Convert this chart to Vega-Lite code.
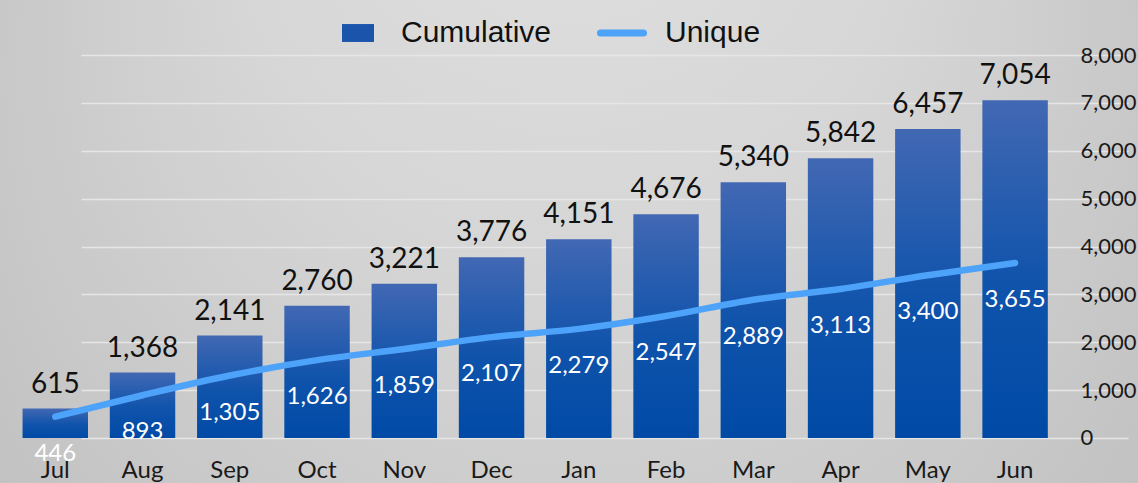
{
  "$schema": "https://vega.github.io/schema/vega-lite/v6.json",
  "width": 1138,
  "height": 483,
  "autosize": "none",
  "padding": 0,
  "background": "#bdbdbd",
  "title": {
    "text": "Agency Members Profile",
    "orient": "top",
    "frame": "group",
    "anchor": "middle",
    "baseline": "bottom",
    "offset": -10,
    "dx": -30,
    "fontSize": 46,
    "font": "Lato",
    "fontWeight": "normal",
    "color": "#222222"
  },
  "config": {
    "view": {
      "stroke": null,
      "fill": {"expr": "{gradient: 'radial', x1: 0.5, y1: 0, r1: 0, x2: 0.5, y2: 0.6, r2: 0.85, stops: [{offset: 0, color: '#e4e4e4'}, {offset: 0.35, color: '#d6d6d6'}, {offset: 0.69, color: '#c2c2c2'}, {offset: 0.83, color: '#a9a9a9'}, {offset: 1, color: '#9e9e9e'}]}"}
    },
    "font": "Lato"
  },
  "data": {
    "values": [
      {"month": "Jul", "Cumulative": 615, "Unique": 446},
      {"month": "Aug", "Cumulative": 1368, "Unique": 893},
      {"month": "Sep", "Cumulative": 2141, "Unique": 1305},
      {"month": "Oct", "Cumulative": 2760, "Unique": 1626},
      {"month": "Nov", "Cumulative": 3221, "Unique": 1859},
      {"month": "Dec", "Cumulative": 3776, "Unique": 2107},
      {"month": "Jan", "Cumulative": 4151, "Unique": 2279},
      {"month": "Feb", "Cumulative": 4676, "Unique": 2547},
      {"month": "Mar", "Cumulative": 5340, "Unique": 2889},
      {"month": "Apr", "Cumulative": 5842, "Unique": 3113},
      {"month": "May", "Cumulative": 6457, "Unique": 3400},
      {"month": "Jun", "Cumulative": 7054, "Unique": 3655}
    ]
  },
  "encoding": {
    "x": {
      "field": "month",
      "type": "ordinal",
      "sort": null,
      "scale": {"paddingInner": 0.25, "paddingOuter": 0.646, "align": 0.2},
      "axis": {
        "orient": "bottom",
        "offset": -45,
        "title": null,
        "labelAngle": 0,
        "ticks": false,
        "domain": false,
        "grid": false,
        "labelPadding": 20,
        "labelFontSize": 24,
        "labelFont": "Lato",
        "labelColor": "#1a1a1a"
      }
    }
  },
  "layer": [
    {
      "mark": {
        "type": "bar",
        "width": {"band": 1},
        "fill": {
          "gradient": "linear",
          "x1": 0, "y1": 0, "x2": 0, "y2": 1,
          "stops": [
            {"offset": 0, "color": "#4268b3"},
            {"offset": 0.55, "color": "#0f53ab"},
            {"offset": 1, "color": "#004aa6"}
          ]
        }
      },
      "encoding": {
        "y": {
          "field": "Cumulative",
          "type": "quantitative",
          "scale": {"domain": [-940, 9149], "nice": false, "zero": false},
          "axis": {
            "orient": "right",
            "offset": -81,
            "title": null,
            "values": [0, 1000, 2000, 3000, 4000, 5000, 6000, 7000, 8000],
            "format": ",.0f",
            "ticks": false,
            "domain": false,
            "grid": true,
            "gridColor": "#e6e6e6",
            "gridWidth": 1.5,
            "gridDash": [1047, 3000],
            "gridDashOffset": 4037,
            "labelPadding": 23,
            "labelFontSize": 22,
            "labelFont": "Lato",
            "labelColor": "#1a1a1a"
          }
        },
        "y2": {"datum": 0}
      }
    },
    {
      "mark": {"type": "text", "baseline": "alphabetic", "dy": -16, "fontSize": 28, "font": "Lato", "color": "#111111"},
      "encoding": {
        "y": {"field": "Cumulative", "type": "quantitative"},
        "text": {"field": "Cumulative", "type": "quantitative", "format": ",.0f"}
      }
    },
    {
      "mark": {"type": "line", "strokeWidth": 6.5, "strokeCap": "round", "interpolate": "monotone"},
      "encoding": {
        "y": {"field": "Unique", "type": "quantitative"},
        "color": {
          "datum": "Unique",
          "scale": {"domain": ["Cumulative", "Unique"], "range": ["#1f57ad", "#4da2fa"]},
          "legend": {
            "orient": "none",
            "legendX": 343,
            "legendY": 18,
            "direction": "horizontal",
            "title": null,
            "labelFontSize": 30,
            "labelFont": "Liberation Sans",
            "labelColor": "#111111",
            "labelLimit": 400,
            "labelOffset": 28,
            "columnPadding": 34,
            "symbolType": "stroke",
            "encode": {
              "symbols": {
                "update": {
                  "shape": {"signal": "datum.value === 'Unique' ? 'stroke' : 'M-1,-0.56H1V0.56H-1Z'"},
                  "size": {"signal": "datum.value === 'Unique' ? 1849 : 1024"},
                  "fill": {"signal": "datum.value === 'Unique' ? 'transparent' : '#1a55ab'"},
                  "stroke": {"signal": "datum.value === 'Unique' ? '#4da2fa' : 'transparent'"},
                  "strokeWidth": {"signal": "datum.value === 'Unique' ? 7 : 0"},
                  "strokeCap": {"value": "round"},
                  "opacity": {"value": 1}
                }
              }
            }
          }
        }
      }
    },
    {
      "mark": {"type": "text", "baseline": "middle", "dy": 37, "fontSize": 24, "font": "Lato", "color": "#ffffff"},
      "encoding": {
        "y": {"field": "Unique", "type": "quantitative"},
        "text": {"field": "Unique", "type": "quantitative", "format": ",.0f"}
      }
    }
  ]
}
